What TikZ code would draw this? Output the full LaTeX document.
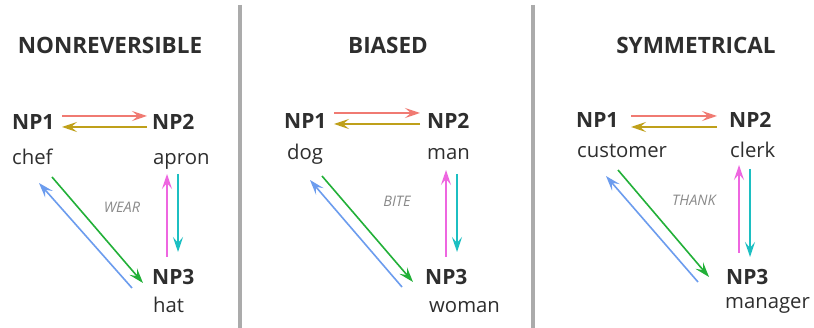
\documentclass[tikz,border=0pt]{standalone}
\usepackage{fontspec}
\setmainfont{Open Sans}
\usetikzlibrary{arrows.meta}
\definecolor{txt}{HTML}{2E2E2E}
\definecolor{divc}{HTML}{ABABAB}
\definecolor{cred}{HTML}{F07A72}
\definecolor{colive}{HTML}{BFA01A}
\definecolor{cblue}{HTML}{6C9CEE}
\definecolor{cgreen}{HTML}{22B038}
\definecolor{cmag}{HTML}{EE66E0}
\definecolor{ccyan}{HTML}{1CBFC2}
\definecolor{verbc}{HTML}{8A8A8A}
\tikzset{
  hdr/.style={text=txt,inner sep=0pt,anchor=base,font=\fontsize{22.5}{24}\selectfont\bfseries},
  np/.style={text=txt,inner sep=0pt,anchor=base west,font=\fontsize{21}{24}\selectfont\bfseries},
  wd/.style={text=txt,inner sep=0pt,anchor=base west,font=\fontsize{20.3}{24}\selectfont},
  verb/.style={text=verbc,inner sep=0pt,font=\fontsize{14.5}{16}\selectfont\itshape},
  arr/.style={line width=1.6pt,-{Stealth[length=15pt,width=10pt,inset=6pt]}},
  divline/.style={draw=divc,line width=3.5pt}
}
\begin{document}
\begin{tikzpicture}[x=1pt,y=-1pt]
\useasboundingbox (0,0) rectangle (814,328);
\fill[white] (0,0) rectangle (814,328);
% dividers
\coordinate (d1t) at (240,5); \coordinate (d1b) at (240,328);
\coordinate (d2t) at (533,5); \coordinate (d2b) at (533,328);
\draw[divline] (d1t) -- (d1b);
\draw[divline] (d2t) -- (d2b);
% headers
\node[hdr] (h1) at (110,54) {NONREVERSIBLE};
\node[hdr] (h2) at (388,54) {BIASED};
\node[hdr] (h3) at (696,54) {SYMMETRICAL};
% ---------- panel 1
\node[np] (a1) at (12,130) {NP1};
\node[np] (a2) at (152,130) {NP2};
\node[wd] (aw1) at (12,165) {chef};
\node[wd] (aw2) at (153,165) {apron};
\node[np] (a3) at (152,285) {NP3};
\node[wd] (aw3) at (153,313) {hat};
\node[verb] (av) at (122,207) {WEAR};
\coordinate (ar1) at (62,116);  \coordinate (ar2) at (147,116);
\coordinate (ao1) at (147,127); \coordinate (ao2) at (62,127);
\coordinate (ag1) at (52,177);  \coordinate (ag2) at (143,283);
\coordinate (ab1) at (132,288); \coordinate (ab2) at (39,183);
\coordinate (am1) at (167,257); \coordinate (am2) at (167,174);
\coordinate (ac1) at (178,174); \coordinate (ac2) at (178,252);
\draw[arr,cred] (ar1) -- (ar2);
\draw[arr,colive] (ao1) -- (ao2);
\draw[arr,cgreen] (ag1) -- (ag2);
\draw[arr,cblue] (ab1) -- (ab2);
\draw[arr,cmag] (am1) -- (am2);
\draw[arr,ccyan] (ac1) -- (ac2);
% ---------- panel 2
\node[np] (b1) at (284,129) {NP1};
\node[np] (b2) at (427,129) {NP2};
\node[wd] (bw1) at (287,160) {dog};
\node[wd] (bw2) at (427,160) {man};
\node[np] (b3) at (425,285) {NP3};
\node[wd] (bw3) at (429,313) {woman};
\node[verb] (bv) at (397,201) {BITE};
\coordinate (br1) at (334,113); \coordinate (br2) at (420,113);
\coordinate (bo1) at (420,124); \coordinate (bo2) at (334,124);
\coordinate (bg1) at (322,176); \coordinate (bg2) at (413,282);
\coordinate (bb1) at (402,287); \coordinate (bb2) at (310,180);
\coordinate (bm1) at (446,257); \coordinate (bm2) at (446,170);
\coordinate (bc1) at (457,174); \coordinate (bc2) at (457,252);
\draw[arr,cred] (br1) -- (br2);
\draw[arr,colive] (bo1) -- (bo2);
\draw[arr,cgreen] (bg1) -- (bg2);
\draw[arr,cblue] (bb1) -- (bb2);
\draw[arr,cmag] (bm1) -- (bm2);
\draw[arr,ccyan] (bc1) -- (bc2);
% ---------- panel 3
\node[np] (c1) at (576,128) {NP1};
\node[np] (c2) at (729,128) {NP2};
\node[wd] (cw1) at (577,158) {customer};
\node[wd] (cw2) at (730,158) {clerk};
\node[np] (c3) at (726,285) {NP3};
\node[wd] (cw3) at (725,309) {manager};
\node[verb] (cv) at (694,200) {THANK};
\coordinate (cr1) at (631,116); \coordinate (cr2) at (717,116);
\coordinate (co1) at (717,127); \coordinate (co2) at (631,127);
\coordinate (cg1) at (618,170); \coordinate (cg2) at (709,277);
\coordinate (cb1) at (698,282); \coordinate (cb2) at (606,176);
\coordinate (cm1) at (739,253); \coordinate (cm2) at (739,165);
\coordinate (cc1) at (750,169); \coordinate (cc2) at (750,257);
\draw[arr,cred] (cr1) -- (cr2);
\draw[arr,colive] (co1) -- (co2);
\draw[arr,cgreen] (cg1) -- (cg2);
\draw[arr,cblue] (cb1) -- (cb2);
\draw[arr,cmag] (cm1) -- (cm2);
\draw[arr,ccyan] (cc1) -- (cc2);
\end{tikzpicture}
\end{document}
